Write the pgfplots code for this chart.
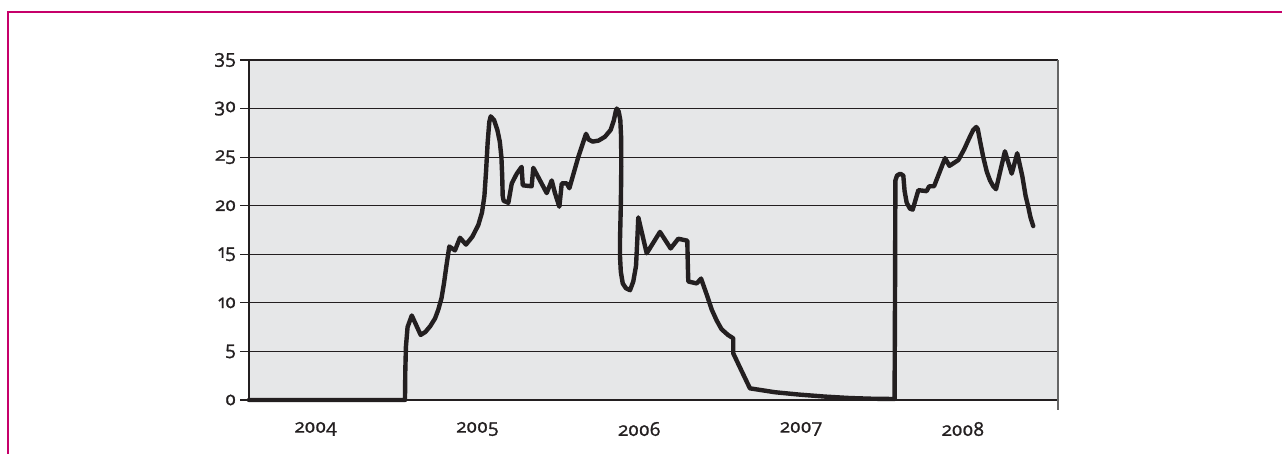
\documentclass[border=0pt]{standalone}
\usepackage{fontspec}
\setmainfont{Open Sans}[Numbers=OldStyle, FakeBold=1.2]
\usepackage{pgfplots}
\pgfplotsset{compat=1.18}
\definecolor{framepink}{RGB}{198,0,106}
\definecolor{plotbg}{RGB}{230,231,232}
\definecolor{ink}{RGB}{35,31,32}
\begin{document}
\begin{tikzpicture}
\useasboundingbox (0pt,0pt) rectangle (641pt,227pt);
% page frame
\draw[framepink, line width=0.8pt] (4pt,0pt) -- (4pt,221pt) -- (641pt,221pt);
\begin{axis}[
  at={(124.5pt,27pt)}, anchor=south west,
  width=404.5pt, height=170pt, scale only axis,
  xmin=2004, xmax=2009, ymin=0, ymax=35,
  axis x line*=bottom, axis y line*=left,
  axis line style={ink, line width=0.7pt},
  axis background/.style={fill=plotbg},
  ytick={0,5,...,35},
  ymajorgrids,
  major grid style={ink, line width=0.6pt},
  tick align=outside,
  major tick length=4.5pt,
  every tick/.style={ink, line width=0.6pt},
  xtick={2004.5,2005.5,2006.5,2007.5,2008.5},
  xticklabels={2004,2005,2006,2007,2008},
  xtick style={draw=none},
  extra x ticks={2004,2005,2006,2007,2008,2009},
  extra x tick labels={},
  extra x tick style={grid=none, tick style={ink, line width=0.6pt}, major tick length=5pt},
  xticklabel style={yshift=-3pt, xshift=-7pt},
  yticklabel style={xshift=1.5pt},
  ticklabel style={font=\fontsize{9.5}{11}\selectfont, text=ink},
  /pgf/number format/assume math mode=true,
  clip=false,
]
\addplot[ink, line width=2.2pt, line join=round, line cap=round] coordinates {
(2004.000,0) (2004.964,0) (2004.966,3.0) (2004.970,5.5) (2004.980,7.5) (2005.006,8.7)
(2005.061,6.7) (2005.090,7.0) (2005.120,7.6) (2005.150,8.4) (2005.170,9.3)
(2005.190,10.5) (2005.205,12.0) (2005.220,13.8) (2005.238,15.8)
(2005.273,15.4) (2005.304,16.7) (2005.341,16.0) (2005.380,16.8) (2005.417,18.0)
(2005.440,19.3) (2005.455,21.0) (2005.465,23.5) (2005.475,26.5) (2005.485,28.6)
(2005.494,29.2) (2005.515,28.8) (2005.535,27.8) (2005.550,26.6) (2005.560,25.0)
(2005.565,23.0) (2005.568,21.0) (2005.574,20.5) (2005.603,20.3) (2005.624,22.3)
(2005.655,23.3) (2005.685,24.0) (2005.692,22.1) (2005.747,22.0) (2005.757,23.9)
(2005.840,21.3) (2005.871,22.6) (2005.891,21.3) (2005.918,19.9) (2005.933,22.3)
(2005.964,22.3) (2005.980,21.8) (2006.035,25.0) (2006.083,27.4) (2006.100,26.8)
(2006.124,26.6) (2006.160,26.7) (2006.200,27.1) (2006.235,27.8) (2006.255,28.8)
(2006.268,29.8) (2006.273,30.0) (2006.285,29.7) (2006.295,28.8) (2006.300,27.0)
(2006.301,24.0) (2006.298,20.0) (2006.293,16.5) (2006.293,14.8) (2006.298,13.2)
(2006.310,12.0) (2006.330,11.5) (2006.355,11.3) (2006.375,12.2) (2006.392,13.8)
(2006.400,16.5) (2006.406,18.8) (2006.458,15.1) (2006.540,17.3) (2006.606,15.6)
(2006.653,16.6) (2006.709,16.4) (2006.712,14.0) (2006.715,12.2) (2006.767,12.0)
(2006.794,12.5) (2006.830,10.8) (2006.860,9.3) (2006.890,8.2) (2006.920,7.3)
(2006.960,6.7) (2006.993,6.35) (2006.993,4.8) (2007.030,3.5) (2007.096,1.2)
(2007.250,0.8) (2007.405,0.55) (2007.560,0.35) (2007.714,0.2) (2007.850,0.13)
(2007.990,0.1) (2007.993,12.0) (2007.995,22.6) (2008.005,23.1) (2008.025,23.3)
(2008.044,23.1) (2008.052,21.5) (2008.065,20.3) (2008.085,19.7) (2008.102,19.6)
(2008.137,21.6) (2008.188,21.5) (2008.204,22.0) (2008.234,22.0) (2008.302,24.9)
(2008.329,24.1) (2008.384,24.7) (2008.420,25.8) (2008.450,26.9) (2008.476,27.8)
(2008.495,28.1) (2008.504,27.9) (2008.520,26.5) (2008.538,25.0) (2008.560,23.5)
(2008.580,22.6) (2008.600,22.0) (2008.617,21.7) (2008.672,25.6) (2008.714,23.3)
(2008.748,25.4) (2008.780,23.0) (2008.800,21.0) (2008.816,19.9) (2008.830,18.8)
(2008.847,17.9)
};
\end{axis}
% right edge of the plot area
\draw[gray!80!black, line width=0.9pt] (529pt,22pt) -- (529pt,197pt);
\end{tikzpicture}
\end{document}
